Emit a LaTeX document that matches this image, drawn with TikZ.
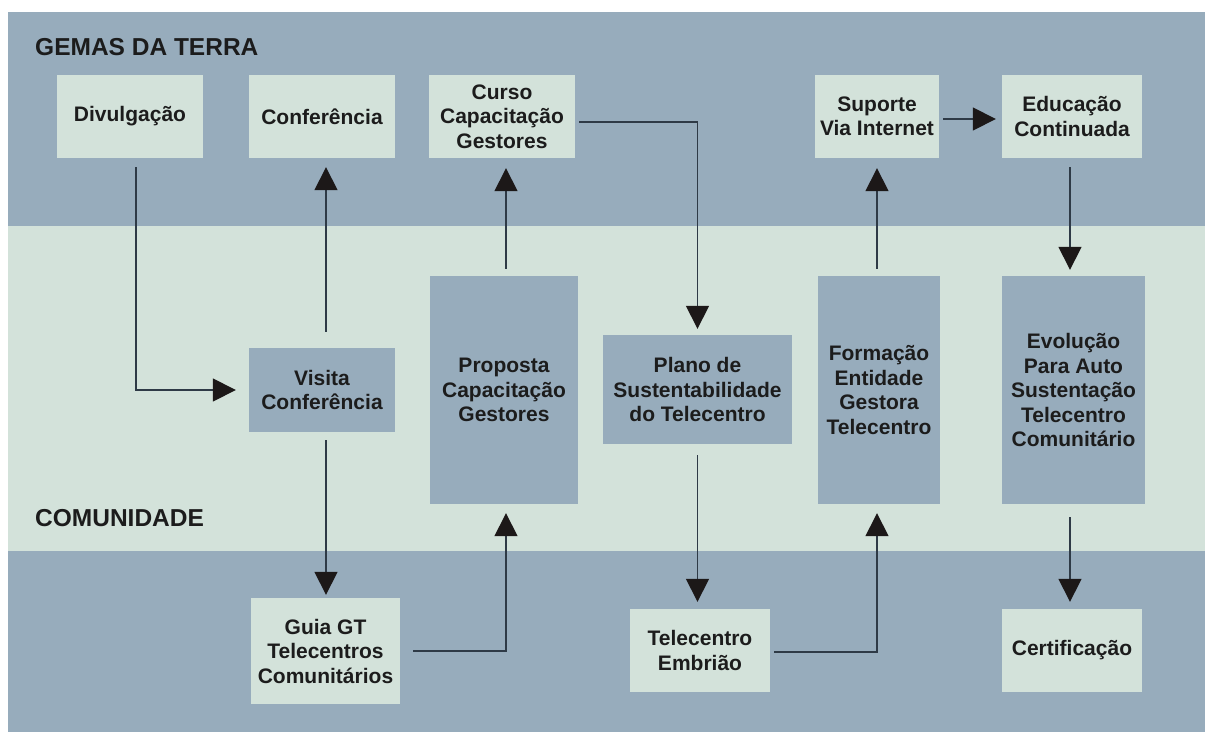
\documentclass[tikz,border=0pt]{standalone}
\usepackage{fontspec}
\setmainfont{Liberation Sans}
\usetikzlibrary{arrows.meta}
\definecolor{bandblue}{HTML}{97ACBC}
\definecolor{bandlight}{HTML}{D3E2DA}
\definecolor{linec}{HTML}{2E3A46}
\definecolor{tipc}{HTML}{1C1818}
\definecolor{txtc}{HTML}{1C1C1C}
\tikzset{
  boxbase/.style={rectangle, inner sep=0pt, align=center, text=txtc,
    font=\bfseries\fontsize{21}{24.5}\selectfont},
  lbox/.style={boxbase, fill=bandlight},
  dbox/.style={boxbase, fill=bandblue},
  band/.style={font=\bfseries\fontsize{24.5}{28}\selectfont, text=txtc, anchor=west, inner sep=0pt},
  conn/.style={draw=linec, line width=1.6pt,
    -{Triangle[width=23pt,length=23pt,color=tipc]}},
}
\begin{document}
\begin{tikzpicture}[x=1pt,y=-1pt]
\useasboundingbox (0,0) rectangle (1205,734);
\fill[white] (0,0) rectangle (1205,734);
% bands
\fill[bandblue] (8,12) rectangle (1205,226);
\fill[bandlight] (8,226) rectangle (1205,551);
\fill[bandblue] (8,551) rectangle (1205,732);

\node[band] (gemas) at (35,47) {GEMAS DA TERRA};
\node[band] (comun) at (35,518) {COMUNIDADE};

% top row
\node[lbox, minimum width=146, minimum height=83] (div) at (130,116.5) {Divulgação};
\node[lbox, minimum width=146, minimum height=83] (conf) at (322,116.5) {Conferência};
\node[lbox, minimum width=146, minimum height=83] (curso) at (502,116.5) {Curso\\Capacitação\\Gestores};
\node[lbox, minimum width=124, minimum height=83] (sup) at (877,116.5) {Suporte\\Via Internet};
\node[lbox, minimum width=140, minimum height=83] (edu) at (1072,116.5) {Educação\\Continuada};

% middle row
\node[dbox, minimum width=146, minimum height=84] (vis) at (322,390) {Visita\\Conferência};
\node[dbox, minimum width=148, minimum height=228] (prop) at (504,390) {Proposta\\Capacitação\\Gestores};
\node[dbox, minimum width=189, minimum height=109] (plano) at (697.5,389.5) {Plano de\\Sustentabilidade\\do Telecentro};
\node[dbox, minimum width=122, minimum height=228] (form) at (879,390) {Formação\\Entidade\\Gestora\\Telecentro};
\node[dbox, minimum width=143, minimum height=228] (evol) at (1073.5,390) {Evolução\\Para Auto\\Sustentação\\Telecentro\\Comunitário};

% bottom row
\node[lbox, minimum width=149, minimum height=106] (guia) at (325.5,651) {Guia GT\\Telecentros\\Comunitários};
\node[lbox, minimum width=140, minimum height=83] (tel) at (700,650.5) {Telecentro\\Embrião};
\node[lbox, minimum width=140, minimum height=83] (cert) at (1072,650.5) {Certificação};

% connectors
\draw[conn] ([xshift=6pt,yshift=-9pt]div.south) |- ([xshift=-13pt]vis.west);
\draw[conn] ([xshift=4pt,yshift=16pt]vis.north) -- ([xshift=4pt,yshift=-9pt]conf.south);
\draw[conn] ([xshift=4pt,yshift=-8pt]vis.south) -- ([xshift=4pt,yshift=3pt]guia.north -| vis.south);
\draw[conn] ([xshift=13pt]guia.east) -| ([xshift=2pt,yshift=-9pt]prop.south);
\draw[conn] ([xshift=2pt,yshift=7pt]prop.north) -- ([xshift=4pt,yshift=-10pt]curso.south);
\draw[conn] ([xshift=4pt,yshift=-5.5pt]curso.east) -| ([yshift=6pt]plano.north);
\draw[conn] ([yshift=-11pt]plano.south) -- ([yshift=7pt]tel.north -| plano.south);
\draw[conn] ([xshift=4pt,yshift=-1.5pt]tel.east) -| ([xshift=-2pt,yshift=-9pt]form.south);
\draw[conn] ([xshift=-2pt,yshift=7pt]form.north) -- ([yshift=-10pt]sup.south);
\draw[conn] ([xshift=4pt,yshift=-2.5pt]sup.east) -- ([xshift=-6pt,yshift=-2.5pt]edu.west);
\draw[conn] ([xshift=-2pt,yshift=-9pt]edu.south) -- ([xshift=-3.5pt,yshift=6pt]evol.north);
\draw[conn] ([xshift=-3.5pt,yshift=-13pt]evol.south) -- ([xshift=-2pt,yshift=7pt]cert.north);
\end{tikzpicture}
\end{document}
